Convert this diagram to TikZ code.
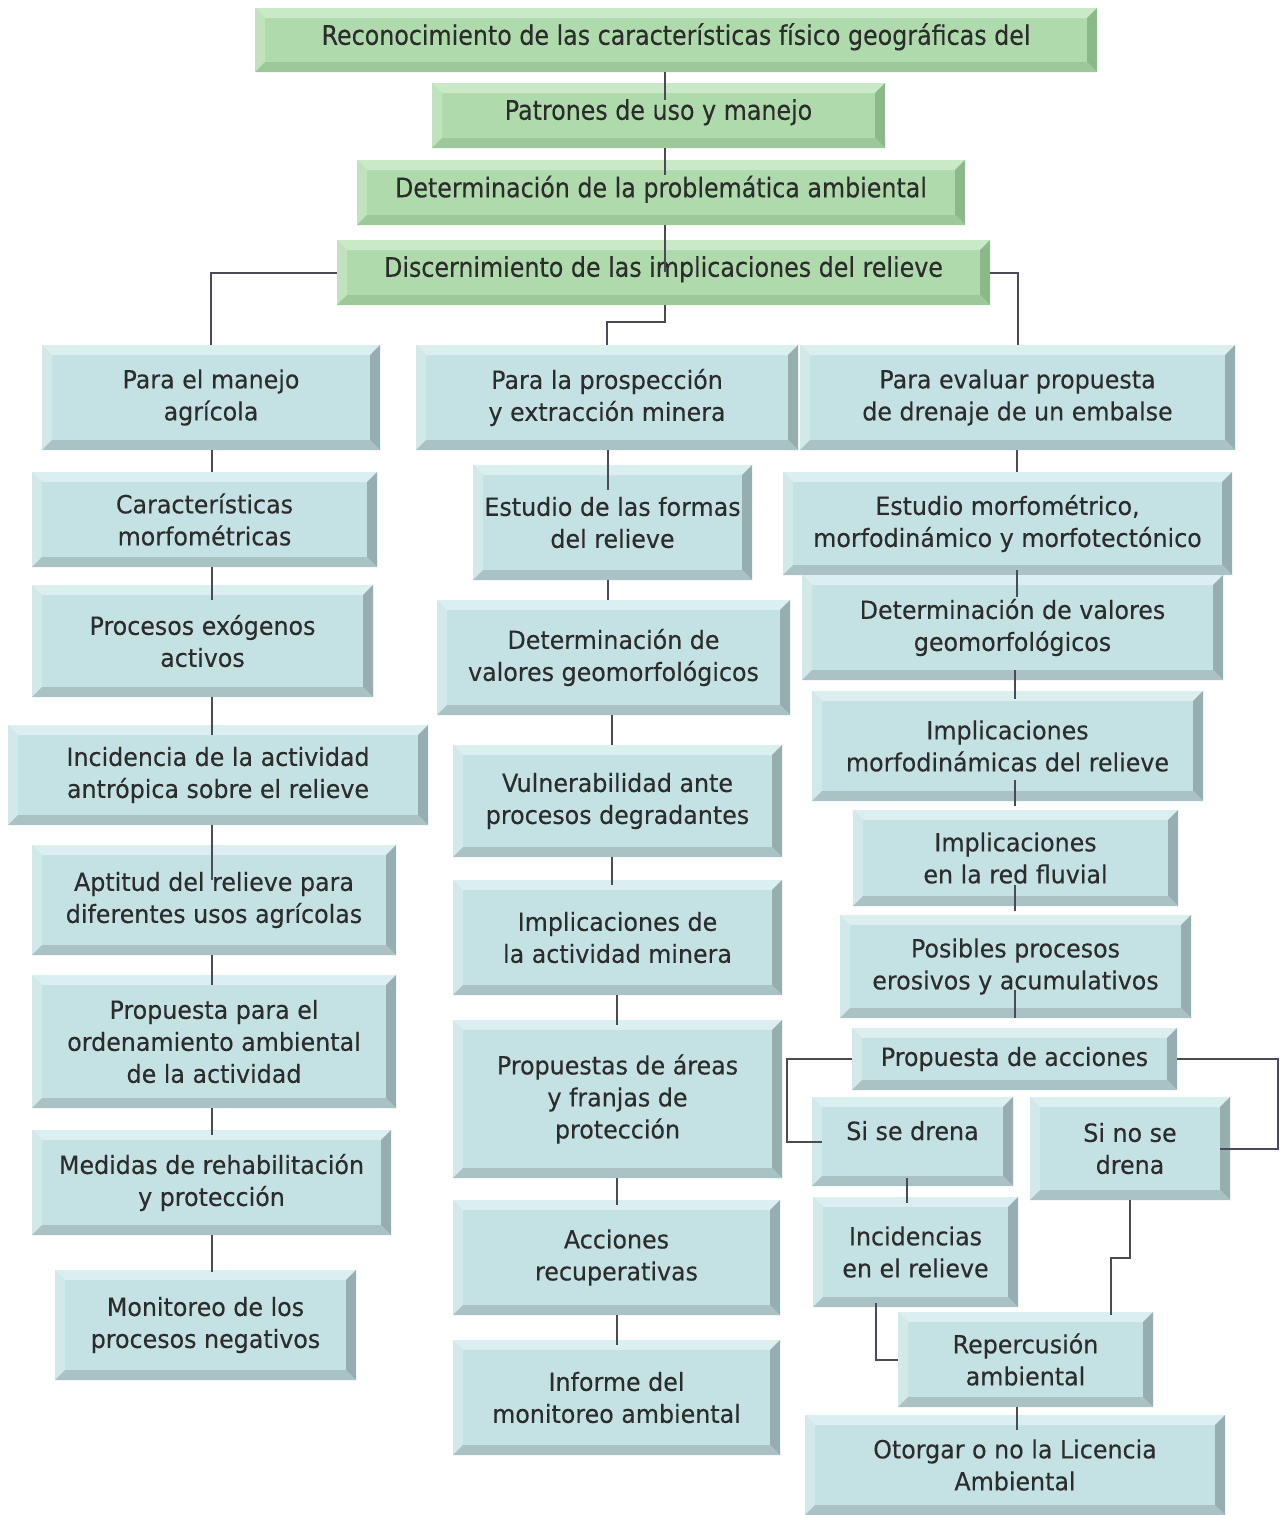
\documentclass[tikz,border=0pt]{standalone}
\usepackage{fontspec}
\setmainfont{DejaVu Sans}[FakeStretch=0.95,FakeBold=0.3]
\newfontfamily\gfont{DejaVu Sans}[FakeStretch=0.88,FakeBold=0.3]
\usetikzlibrary{calc}
\definecolor{bfill}{HTML}{C4E1E3}
\definecolor{btop}{HTML}{DCEFF0}
\definecolor{bleft}{HTML}{D2E9EA}
\definecolor{bright}{HTML}{97AEB1}
\definecolor{bbot}{HTML}{AAC2C4}
\definecolor{gfill}{HTML}{AFDAAC}
\definecolor{gtop}{HTML}{CAE9C7}
\definecolor{gleft}{HTML}{C0E3BD}
\definecolor{gright}{HTML}{8CB98A}
\definecolor{gbot}{HTML}{9DC89A}
\definecolor{lc}{HTML}{4A4A58}
\definecolor{txt}{HTML}{2C2C2C}
\def\bevw{5pt}
\tikzset{
  bev/.style n args={4}{path picture={
    \fill[#1] (path picture bounding box.north west) -- (path picture bounding box.north east)
      -- ([xshift=-\bevw,yshift=-\bevw]path picture bounding box.north east)
      -- ([xshift=\bevw,yshift=-\bevw]path picture bounding box.north west) -- cycle;
    \fill[#2] (path picture bounding box.north west) -- (path picture bounding box.south west)
      -- ([xshift=\bevw,yshift=\bevw]path picture bounding box.south west)
      -- ([xshift=\bevw,yshift=-\bevw]path picture bounding box.north west) -- cycle;
    \fill[#3] (path picture bounding box.north east) -- (path picture bounding box.south east)
      -- ([xshift=-\bevw,yshift=\bevw]path picture bounding box.south east)
      -- ([xshift=-\bevw,yshift=-\bevw]path picture bounding box.north east) -- cycle;
    \fill[#4] (path picture bounding box.south west) -- (path picture bounding box.south east)
      -- ([xshift=-\bevw,yshift=\bevw]path picture bounding box.south east)
      -- ([xshift=\bevw,yshift=\bevw]path picture bounding box.south west) -- cycle;
  }},
  boxbase/.style={draw=none, inner sep=0pt, align=center, text=txt},
  bbox/.style 2 args={boxbase, fill=bfill, minimum width=#1*0.5pt, minimum height=#2*0.5pt,
    font=\fontsize{12.5}{16}\selectfont, bev={btop}{bleft}{bright}{bbot}},
  gbox/.style 2 args={boxbase, fill=gfill, minimum width=#1*0.5pt, minimum height=#2*0.5pt,
    text depth=6pt, font=\gfont\fontsize{13.5}{16}\selectfont, bev={gtop}{gleft}{gright}{gbot}},
  conn/.style={draw=lc, line width=1pt},
}
\newcommand\vconn[5]{\draw[conn] ($(#1 |- #2.south)+(0,#3)$) -- ($(#1 |- #4.north)+(0,#5)$);}
\begin{document}
\begin{tikzpicture}[x=0.5pt,y=-0.5pt]
\fill[white] (0,0) rectangle (1284,1515);
\useasboundingbox (0,0) rectangle (1284,1515);
% spine coordinates
\coordinate (k0) at (665,0);
\coordinate (k1) at (212,0);
\coordinate (k2) at (608,0);
\coordinate (k3) at (612,0);
\coordinate (k4) at (617,0);
\coordinate (k5) at (1017,0);
\coordinate (k6) at (1015,0);
\coordinate (k7) at (907,0);
% green boxes
\node[gbox={842}{64}] (g1) at (676,40) {Reconocimiento de las características físico geográficas del};
\node[gbox={453}{65}] (g2) at (658.5,115.5) {Patrones de uso y manejo};
\node[gbox={608}{65}] (g3) at (661,192.5) {Determinación de la problemática ambiental};
\node[gbox={653}{65}] (g4) at (663.5,272.5) {Discernimiento de las implicaciones del relieve};
% column 1
\node[bbox={338}{105}] (b11) at (211,397.5) {Para el manejo\\agrícola};
\node[bbox={345}{95}] (b12) at (204.5,519.5) {Características\\morfométricas};
\node[bbox={341}{112}] (b13) at (202.5,641) {Procesos exógenos\\activos};
\node[bbox={420}{100}] (b14) at (218,775) {Incidencia de la actividad\\antrópica sobre el relieve};
\node[bbox={364}{110}] (b15) at (214,900) {Aptitud del relieve para\\diferentes usos agrícolas};
\node[bbox={364}{133}] (b16) at (214,1041.5) {Propuesta para el\\ordenamiento ambiental\\de la actividad};
\node[bbox={359}{105}] (b17) at (211.5,1182.5) {Medidas de rehabilitación\\y protección};
\node[bbox={301}{110}] (b18) at (205.5,1325) {Monitoreo de los\\procesos negativos};
% column 2
\node[bbox={382}{105}] (b21) at (607,397.5) {Para la prospección\\y extracción minera};
\node[bbox={279}{115}] (b22) at (612.5,522.5) {Estudio de las formas\\del relieve};
\node[bbox={353}{115}] (b23) at (613.5,657.5) {Determinación de\\valores geomorfológicos};
\node[bbox={329}{112}] (b24) at (617.5,801) {Vulnerabilidad ante\\procesos degradantes};
\node[bbox={329}{115}] (b25) at (617.5,937.5) {Implicaciones de\\la actividad minera};
\node[bbox={329}{158}] (b26) at (617.5,1099) {Propuestas de áreas\\y franjas de\\protección};
\node[bbox={327}{115}] (b27) at (616.5,1257.5) {Acciones\\recuperativas};
\node[bbox={327}{115}] (b28) at (616.5,1397.5) {Informe del\\monitoreo ambiental};
% column 3
\node[bbox={435}{105}] (b31) at (1017.5,397.5) {Para evaluar propuesta\\de drenaje de un embalse};
\node[bbox={449}{103}] (b32) at (1007.5,523.5) {Estudio morfométrico,\\morfodinámico y morfotectónico};
\node[bbox={421}{105}] (b33) at (1012.5,627.5) {Determinación de valores\\geomorfológicos};
\node[bbox={391}{110}] (b34) at (1007.5,746) {Implicaciones\\morfodinámicas del relieve};
\node[bbox={325}{96}] (b35) at (1015.5,858) {Implicaciones\\en la red fluvial};
\node[bbox={351}{103}] (b36) at (1015.5,966.5) {Posibles procesos\\erosivos y acumulativos};
\node[bbox={325}{62}] (b37) at (1014.5,1059) {Propuesta de acciones};
\node[bbox={201}{89}, text depth=11pt] (b38) at (912.5,1141.5) {Si se drena};
\node[bbox={200}{103}] (b39) at (1130,1148.5) {Si no se\\drena};
\node[bbox={205}{110}] (b3a) at (915.5,1252) {Incidencias\\en el relieve};
\node[bbox={255}{95}] (b3b) at (1025.5,1359.5) {Repercusión\\ambiental};
\node[bbox={420}{100}] (b3c) at (1015,1465) {Otorgar o no la Licencia\\Ambiental};
% connectors: top spine
\vconn{k0}{g1}{0}{g2}{17}
\vconn{k0}{g2}{0}{g3}{15}
\vconn{k0}{g3}{0}{g4}{32}
\draw[conn] (k0 |- g4.south) -- ++(0,17) -| (b21.north);
\draw[conn] (g4.west) -| (b11.north);
\draw[conn] (g4.east) -| (b31.north);
% column 1
\vconn{k1}{b11}{0}{b12}{0}
\vconn{k1}{b12}{0}{b13}{15}
\vconn{k1}{b13}{0}{b14}{10}
\vconn{k1}{b14}{0}{b15}{35}
\vconn{k1}{b15}{0}{b16}{10}
\vconn{k1}{b16}{0}{b17}{5}
\vconn{k1}{b17}{0}{b18}{2}
% column 2
\vconn{k2}{b21}{0}{b22}{25}
\vconn{k2}{b22}{0}{b23}{0}
\vconn{k3}{b23}{0}{b24}{0}
\vconn{k3}{b24}{0}{b25}{5}
\vconn{k4}{b25}{0}{b26}{5}
\vconn{k4}{b26}{0}{b27}{5}
\vconn{k4}{b27}{0}{b28}{5}
% column 3
\vconn{k5}{b31}{0}{b32}{0}
\vconn{k5}{b32}{-5}{b33}{22}
\vconn{k6}{b33}{-10}{b34}{8}
\vconn{k6}{b34}{-21}{b35}{-4}
\vconn{k6}{b35}{-21}{b36}{-4}
\vconn{k6}{b36}{-28}{b37}{-10}
\draw[conn] (b37.west) -- ++(-65,0) |- ($(b38.west)+(10,0)$);
\draw[conn] (b37.east) -- ++(101,0) |- ($(b39.east)+(-10,0)$);
\vconn{k7}{b38}{-8}{b3a}{6}
\draw[conn] ($(b3a.south)+(-40,-4)$) |- (b3b.west);
\draw[conn] (b39.south) -- ++(0,58) -| ($(b3b.north)+(85,3)$);
\vconn{k5}{b3b}{0}{b3c}{15}
\end{tikzpicture}
\end{document}
